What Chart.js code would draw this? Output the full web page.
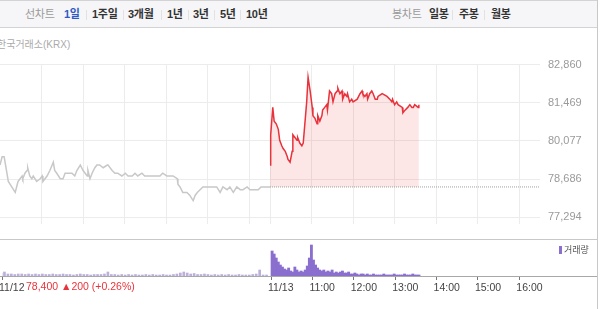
<!DOCTYPE html>
<html>
<head>
<meta charset="utf-8">
<script src="https://cdn.jsdelivr.net/npm/chart.js@4.4.1/dist/chart.umd.min.js"></script>
<style>
html, body { margin: 0; padding: 0; background: #fff; overflow: hidden; }
body { width: 600px; height: 309px; position: relative; font-family: 'Liberation Sans', 'Noto Sans CJK KR', sans-serif; }
#topbar { position: absolute; left: 0; top: 0; width: 597px; height: 26px; background: #f6f6f8; border-top: 1px solid #d3d3d3; border-bottom: 1px solid #d3d3d3; }
.tab { position: absolute; top: 6px; font-size: 11px; font-weight: bold; color: #333; line-height: 14px; white-space: nowrap; letter-spacing: -0.3px; }
.tab.muted { color: #9a9a9a; font-weight: normal; }
.tab.on { color: #2f5bc4; }
.sep { position: absolute; top: 9px; width: 1px; height: 10px; background: #e2e2e2; }
#source { position: absolute; left: -3px; top: 36px; font-size: 10px; color: #aaa; white-space: nowrap; }
#rborder { position: absolute; left: 597px; top: 0; width: 1px; height: 309px; background: #c8c8c8; }
#vsep { position: absolute; left: 0; top: 239px; width: 597px; height: 1px; background: #c8c8c8; }
#vbase { position: absolute; left: 0; top: 276px; width: 597px; height: 1px; background: #a8a8a8; }
#price { position: absolute; left: 0; top: 50px; }
#volume { position: absolute; left: 0; top: 240px; }
#quote { position: absolute; left: 26px; top: 280px; font-size: 10.5px; color: #e8333b; white-space: nowrap; }
#vlegend { position: absolute; left: 559px; top: 243px; font-size: 9px; color: #555; white-space: nowrap; }
#vlegend i { display: inline-block; width: 3px; height: 8px; background: #8a6fcf; margin-right: 2px; vertical-align: -1px; }
</style>
</head>
<body>
<div id="topbar">
  <span class="tab muted" style="left:25px">선차트</span>
  <span class="tab on" style="left:64px">1일</span>
  <span class="sep" style="left:86px"></span>
  <span class="tab" style="left:92px">1주일</span>
  <span class="sep" style="left:123px"></span>
  <span class="tab" style="left:128px">3개월</span>
  <span class="sep" style="left:161px"></span>
  <span class="tab" style="left:167px">1년</span>
  <span class="sep" style="left:188px"></span>
  <span class="tab" style="left:193px">3년</span>
  <span class="sep" style="left:214px"></span>
  <span class="tab" style="left:220px">5년</span>
  <span class="sep" style="left:240px"></span>
  <span class="tab" style="left:246px">10년</span>
  <span class="tab muted" style="left:392px">봉차트</span>
  <span class="tab" style="left:429px">일봉</span>
  <span class="sep" style="left:452px"></span>
  <span class="tab" style="left:459px">주봉</span>
  <span class="sep" style="left:484px"></span>
  <span class="tab" style="left:491px">월봉</span>
</div>
<div id="source">한국거래소(KRX)</div>
<canvas id="price" width="597" height="189"></canvas>
<div id="vsep"></div>
<canvas id="volume" width="597" height="69"></canvas>
<div id="vbase"></div>
<div id="rborder"></div>
<div id="quote">78,400 ▲200 (+0.26%)</div>
<div id="vlegend"><i></i>거래량</div>

<script>
// minutes since 9:00 on 11/12; 11/13 session (10:00 open) starts at minute 390
const prevMinutes = [0, 3, 6, 10, 12, 17, 22, 25, 26, 29, 32, 33, 36, 39, 40, 43, 46, 48, 53, 58,
    61, 62, 68, 72, 77, 79, 82, 87, 91, 94, 98, 104, 108, 111, 116, 120, 126, 127, 130, 133,
    137, 140, 144, 149, 155, 156, 162, 166, 170, 176, 181, 185, 191, 195, 199, 205, 209, 217, 224, 231,
    235, 241, 246, 250, 256, 257, 260, 264, 270, 274, 279, 282, 285, 289, 293, 299, 303, 308, 313, 318,
    322, 328, 332, 337, 342, 347, 351, 357, 361, 368, 373, 377, 390];
const prevPrices = [79200, 79500, 79500, 78900, 78600, 78400, 78200, 78500, 78600, 78700, 78800, 78700, 78900, 79000, 79100, 78800, 78700, 78800, 78600, 78700,
    78800, 78600, 78800, 79000, 79300, 79000, 78900, 78700, 78700, 78900, 78900, 78900, 78800, 79000, 79200, 79000, 78800, 79000, 78700, 78900,
    79100, 79200, 79200, 79100, 79200, 79200, 79000, 78900, 78900, 78800, 78900, 78800, 78800, 78900, 78800, 78900, 78800, 78800, 78800, 78800,
    78900, 78800, 78800, 78800, 78700, 78500, 78400, 78200, 78200, 78100, 77900, 78100, 78200, 78300, 78400, 78400, 78400, 78400, 78400, 78200,
    78400, 78300, 78400, 78200, 78400, 78300, 78300, 78400, 78300, 78300, 78300, 78400, 78400];

const todayMinutes = [390, 391, 394, 396, 399, 400, 402, 404, 407, 409, 412, 415, 416, 419, 422, 423, 426, 429, 430, 433,
    436, 438, 441, 443, 445, 448, 451, 452, 455, 458, 459, 462, 465, 466, 469, 472, 473, 476, 479, 481,
    484, 487, 488, 491, 494, 495, 498, 501, 502, 505, 508, 510, 516, 520, 523, 524, 527, 530, 531, 534,
    537, 539, 542, 545, 546, 552, 553, 559, 563, 566, 567, 570, 573, 575, 581, 582, 585, 589, 592, 595,
    597, 599, 604, 605];
const todayPrices = [79200, 80300, 81300, 80800, 80700, 80700, 80500, 80100, 79900, 79800, 79700, 79500, 79400, 79300, 79700, 80300, 80200, 80100, 80200, 80000,
    79900, 80000, 80900, 81500, 82400, 81900, 81300, 81000, 80900, 80700, 81000, 80800, 81000, 81200, 81300, 81400, 81200, 81900, 81800, 81500,
    81800, 81900, 82000, 81800, 81900, 81600, 81800, 81700, 81800, 81500, 81600, 81500, 81600, 81800, 81900, 81800, 81700, 81800, 81600, 81800,
    81900, 81800, 81600, 81600, 81700, 81800, 81800, 81700, 81600, 81500, 81600, 81400, 81500, 81400, 81300, 81100, 81200, 81300, 81400, 81300,
    81300, 81400, 81300, 81400];

const prevClose = 78400;

// volume (shares): 11/12 in 5-minute bars from 9:00, 11/13 in 3-minute bars from 10:00
const prevVolumes = [60000, 80000, 40000, 40000, 30000, 40000, 40000, 30000, 40000, 30000,
    40000, 30000, 40000, 30000, 30000, 40000, 30000, 30000, 40000, 30000,
    30000, 20000, 30000, 40000, 30000, 30000, 20000, 30000, 30000, 30000,
    40000, 80000, 30000, 30000, 20000, 30000, 20000, 30000, 20000, 30000,
    20000, 20000, 30000, 20000, 30000, 20000, 20000, 30000, 20000, 20000,
    30000, 40000, 60000, 80000, 60000, 40000, 50000, 30000, 30000, 40000,
    30000, 20000, 30000, 20000, 30000, 20000, 30000, 20000, 20000, 30000,
    20000, 20000, 20000, 30000, 40000, 120000, 20000, 20000];
const todayVolumes = [500000, 440000, 360000, 280000, 220000, 180000, 140000, 120000, 160000, 100000,
    80000, 180000, 120000, 80000, 100000, 80000, 120000, 200000, 360000, 620000,
    320000, 220000, 160000, 120000, 100000, 120000, 80000, 100000, 80000, 120000,
    60000, 80000, 60000, 80000, 100000, 60000, 60000, 80000, 40000, 40000,
    60000, 40000, 20000, 40000, 40000, 20000, 40000, 20000, 20000, 40000,
    20000, 20000, 20000, 20000, 40000, 20000, 20000, 20000, 20000, 40000,
    20000, 20000, 20000, 20000, 40000, 20000, 20000, 20000, 40000, 20000,
    20000, 20000];

const yTicks = [77294, 78686, 80077, 81469, 82860];
const gridMinutes = [60, 120, 180, 240, 300, 360, 390, 450, 510, 570, 630, 690, 750];
const axisMinutes = [0, 390, 450, 510, 570, 630, 690, 750];
const axisLabels = ['11/12', '11/13', '11:00', '12:00', '13:00', '14:00', '15:00', '16:00'];

const FONT = "'Liberation Sans', 'Noto Sans CJK KR', sans-serif";

function toPoints(xs, ys) {
    return xs.map((x, i) => ({ x: x, y: ys[i] }));
}

new Chart(document.getElementById('price'), {
    type: 'line',
    data: {
        datasets: [
            {
                data: toPoints(prevMinutes, prevPrices),
                borderColor: '#c8c8c8',
                borderWidth: 1.5,
                pointRadius: 0,
                fill: false
            },
            {
                data: [{ x: 390, y: prevClose }, { x: 780, y: prevClose }],
                borderColor: '#a0a0a0',
                borderWidth: 1,
                borderDash: [1, 1],
                pointRadius: 0,
                fill: false
            },
            {
                data: toPoints(todayMinutes, todayPrices),
                borderColor: '#e8323c',
                borderWidth: 1.5,
                pointRadius: 0,
                fill: { value: prevClose },
                backgroundColor: 'rgba(240, 60, 60, 0.13)'
            }
        ]
    },
    options: {
        responsive: false,
        animation: false,
        events: [],
        layout: { padding: { top: 9, left: 0, right: 0, bottom: 0 } },
        plugins: { legend: { display: false }, tooltip: { enabled: false } },
        scales: {
            x: {
                type: 'linear',
                min: 0,
                max: 780,
                afterBuildTicks: s => { s.ticks = gridMinutes.map(v => ({ value: v })); },
                afterFit: s => { s.height = 0; },
                grid: { color: '#ececec', drawTicks: false },
                border: { display: false },
                ticks: { display: false }
            },
            y: {
                position: 'right',
                min: 77035,
                max: 82860,
                afterBuildTicks: s => { s.ticks = yTicks.map(v => ({ value: v })); },
                afterFit: s => { s.width = 57; },
                grid: { color: '#ececec', drawTicks: false },
                border: { display: false },
                ticks: {
                    color: '#9a9a9a',
                    padding: 8,
                    font: { size: 11, family: FONT },
                    callback: v => v.toLocaleString('en-US')
                }
            }
        }
    }
});

new Chart(document.getElementById('volume'), {
    type: 'bar',
    data: {
        datasets: [
            {
                data: prevVolumes.map((v, i) => ({ x: i * 5, y: v })),
                backgroundColor: '#bcb0da',
                barThickness: 2
            },
            {
                data: todayVolumes.map((v, i) => ({ x: 390 + i * 3, y: v })),
                backgroundColor: '#8a6fcf',
                barThickness: 2.2
            }
        ]
    },
    options: {
        responsive: false,
        animation: false,
        events: [],
        layout: { padding: { top: 0, left: 0, right: 57, bottom: 0 } },
        plugins: { legend: { display: false }, tooltip: { enabled: false } },
        scales: {
            x: {
                type: 'linear',
                min: 0,
                max: 780,
                offset: false,
                afterBuildTicks: s => { s.ticks = axisMinutes.map(v => ({ value: v })); },
                afterFit: s => { s.height = 33; },
                grid: { drawOnChartArea: false, drawTicks: true, tickLength: 4, tickColor: '#777', offset: false },
                border: { display: false },
                ticks: {
                    align: 'start',
                    autoSkip: false,
                    maxRotation: 0,
                    padding: 2,
                    labelOffset: -3,
                    color: '#444',
                    font: { size: 10.5, family: FONT },
                    callback: (v, i) => axisLabels[i]
                }
            },
            y: {
                display: false,
                min: 0,
                max: 720000
            }
        }
    }
});
</script>
</body>
</html>
